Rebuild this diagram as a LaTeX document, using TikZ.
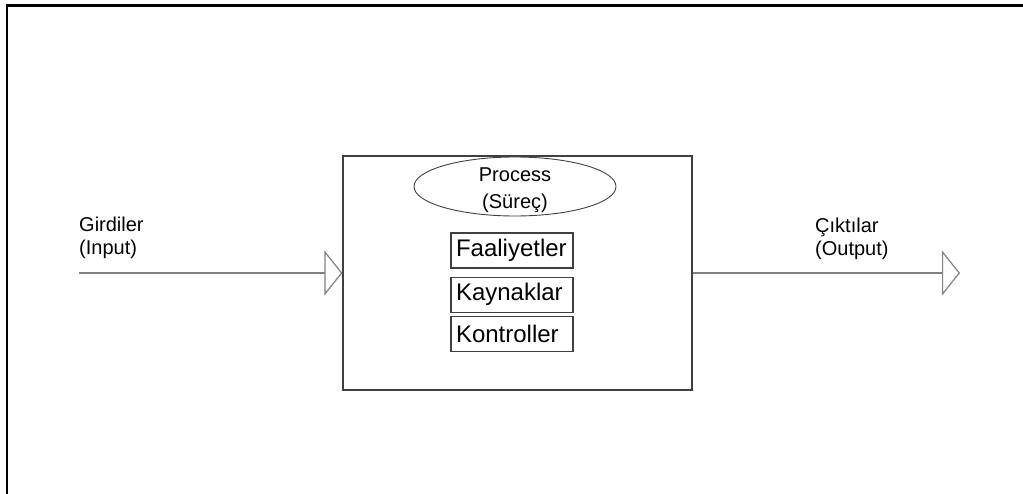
\documentclass[tikz,border=0pt]{standalone}
\usepackage{fontspec}
\setmainfont{Liberation Sans}
\usetikzlibrary{positioning,arrows.meta,shapes.geometric}
\definecolor{boxgray}{RGB}{64,64,64}
\definecolor{arrowgray}{RGB}{128,128,128}

\begin{document}
\begin{tikzpicture}[x=1pt, y=-1pt,
        frame/.style={line width=2.5pt, black},
        procbox/.style={draw=boxgray, line width=1.2pt, minimum width=349pt, minimum height=234pt, inner sep=0pt},
        pellipse/.style={ellipse, draw=boxgray, line width=0.9pt, minimum width=202pt, minimum height=59pt, inner sep=0pt},
        ptext/.style={inner sep=0pt, align=center, font=\fontsize{20}{27}\selectfont},
        ibox/.style={draw=boxgray, line width=1.1pt, text width=112pt, inner xsep=5pt, inner ysep=0pt,
                     minimum height=35pt, align=left, font=\fontsize{24}{28}\selectfont},
        lbl/.style={anchor=north west, inner sep=0pt, align=left, font=\fontsize{20}{23}\selectfont},
        flow/.style={draw=arrowgray, line width=1.2pt, -{Triangle[length=18pt, width=45pt, fill=white]}}
    ]
    \useasboundingbox (0,0) rectangle (1023,493);
    \draw[frame] (1030,5.5) -- (7,5.5) -- (7,500);
    \node[procbox] (proc) at (517.5,273) {};
    \node[pellipse] (surec) at (515,186.5) {};
    \node[ptext] (surectxt) at ([yshift=-3.5pt]surec.center) {Process\\(Süreç)};
    \node[ibox] (faal) at (512,250.5) {Faaliyetler};
    \node[ibox, below=8pt of faal] (kayn) {Kaynaklar};
    \node[ibox, below=3pt of kayn] (kont) {Kontroller};
    \node[lbl] (gir) at (79,216.5) {Girdiler\\(Input)};
    \node[lbl] (cik) at (815,217.5) {Çıktılar\\(Output)};
    \coordinate (inp) at (79,273);
    \coordinate (outp) at (960,273);
    \draw[flow] (inp) -- (proc.west);
    \draw[flow] (proc.east) -- (outp);
    \end{tikzpicture}
\end{document}
